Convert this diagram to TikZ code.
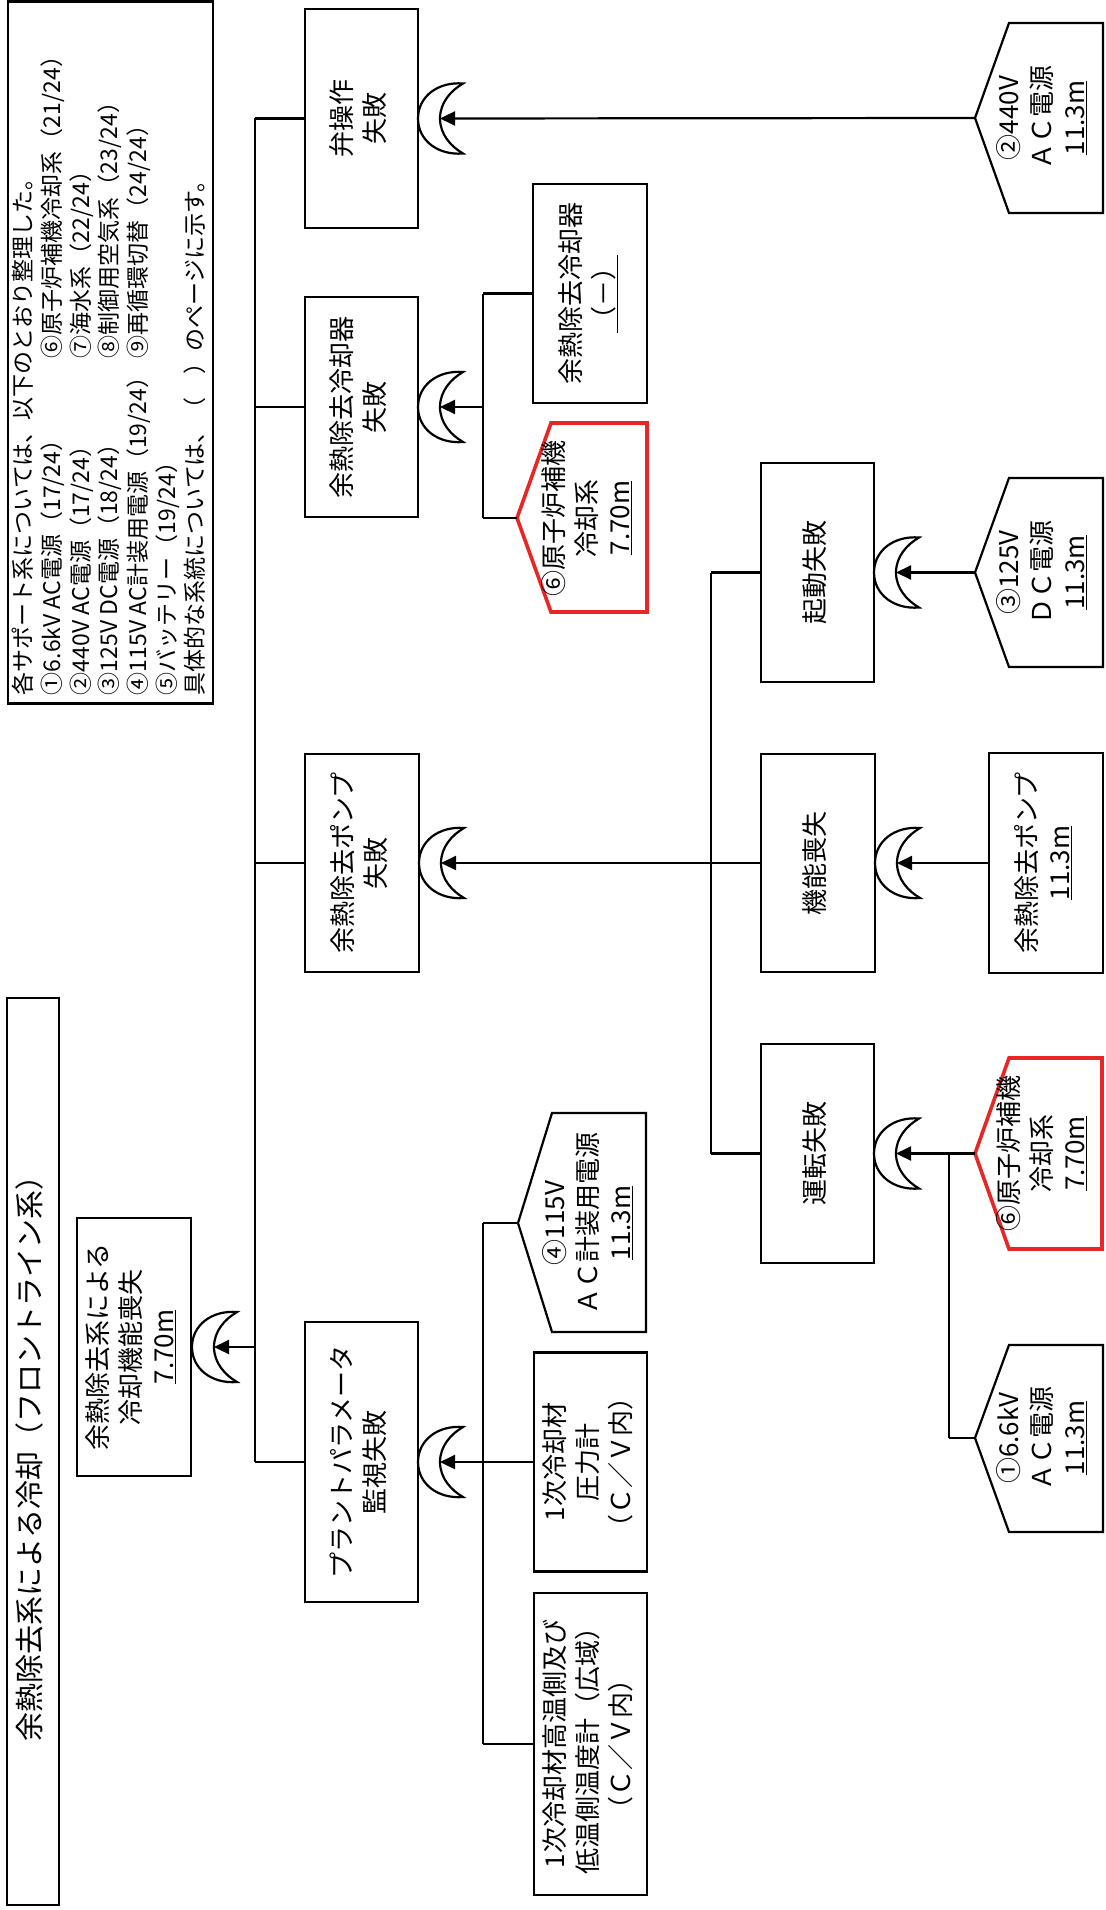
\documentclass[tikz,border=0pt]{standalone}
\usepackage{fontspec}
\setmainfont{Noto Sans CJK JP}
\usepackage{graphicx}
\usetikzlibrary{arrows.meta}
\definecolor{hred}{RGB}{232,38,38}
\newcommand\rt[1]{\rotatebox{90}{\begin{tabular}{@{}c@{}}#1\end{tabular}}}
\newcommand\orgate[3]{%
  \draw[gateline] (#2+45,#3-35) .. controls (#2+20,#3-37) and (#2,#3-22) .. (#2,#3)
     .. controls (#2,#3+22) and (#2+20,#3+37) .. (#2+45,#3+35)
     .. controls (#2+33,#3+28) and (#2+22,#3+16) .. (#2+22,#3)
     .. controls (#2+22,#3-16) and (#2+33,#3-28) .. (#2+45,#3-35) -- cycle;
  \coordinate (#1) at (#2+22,#3);}
\newcommand\house[7]{%
  \draw[#7] (#2,#3) -- (#2+34,#4) -- (#6,#4) -- (#6,#5) -- (#2+34,#5) -- cycle;
  \coordinate (#1) at (#2,#3);}
\tikzset{
  box/.style={draw, line width=2.2pt, inner sep=0pt, font=\fontsize{26}{33}\selectfont},
  txt/.style={inner sep=0pt, font=\fontsize{26}{33}\selectfont},
  conn/.style={line width=2.2pt},
  arr/.style={line width=2.2pt, -{Triangle[length=15pt,width=14pt]}},
  gateline/.style={line width=2.2pt, line join=miter},
  blackhouse/.style={draw, line width=2.2pt, line join=miter},
  redhouse/.style={draw=hred, line width=3.6pt, line join=miter},
}
\begin{document}
\begin{tikzpicture}[x=1pt,y=-1pt]
\useasboundingbox (0,0) rectangle (1105,1910);
\fill[white] (0,0) rectangle (1105,1910);

% title and legend
\node[box, line width=2.4pt, minimum width=52pt, minimum height=907pt, font=\fontsize{29}{34}\selectfont] (title) at (33,1451.5) {\rt{余熱除去系による冷却（フロントライン系）}};
\node[box, line width=2.4pt, minimum width=205pt, minimum height=702pt] (legend) at (110.5,352.5) {};
\node[txt, font=\fontsize{23}{28.7}\selectfont] (legendtext) at (112,358.5) {\rotatebox{90}{\begin{tabular}{@{}l@{}}
\makebox[673pt][l]{各サポート系については、以下のとおり整理した。}\\
\makebox[337pt][l]{①6.6kV AC電源（17/24）}⑥原子炉補機冷却系（21/24）\\
\makebox[337pt][l]{②440V AC電源（17/24）}⑦海水系（22/24）\\
\makebox[337pt][l]{③125V DC電源（18/24）}⑧制御用空気系（23/24）\\
\makebox[337pt][l]{④115V AC計装用電源（19/24）}⑨再循環切替（24/24）\\
\makebox[337pt][l]{⑤バッテリー（19/24）}\\
\makebox[673pt][l]{具体的な系統については、（　）のページに示す。}
\end{tabular}}};

% boxes
\node[box, minimum width=114pt, minimum height=258pt] (top) at (134,1347) {\rt{余熱除去系による\\冷却機能喪失\\\underline{7.70m}}};
\node[box, minimum width=113pt, minimum height=219pt] (valve) at (361.5,118.5) {\rt{弁操作\\失敗}};
\node[box, minimum width=113pt, minimum height=220pt] (cooler) at (361.5,407) {\rt{余熱除去冷却器\\失敗}};
\node[box, minimum width=114pt, minimum height=218pt] (pump) at (362,863) {\rt{余熱除去ポンプ\\失敗}};
\node[box, minimum width=113pt, minimum height=280pt] (plant) at (361.5,1462) {\rt{プラントパラメータ\\監視失敗}};
\node[box, minimum width=114pt, minimum height=219pt] (coolerm) at (590,293.5) {\rt{余熱除去冷却器\\\underline{（－）}}};
\node[box, minimum width=113pt, minimum height=219pt] (press) at (590.5,1462) {\rt{1次冷却材\\圧力計\\（Ｃ／Ｖ内）}};
\node[box, minimum width=113pt, minimum height=302pt] (temp) at (590.5,1744) {\rt{1次冷却材高温側及び\\低温側温度計（広域）\\（Ｃ／Ｖ内）}};
\node[box, minimum width=113pt, minimum height=219pt] (start) at (817.5,572.5) {\rt{起動失敗}};
\node[box, minimum width=114pt, minimum height=218pt] (func) at (818,863) {\rt{機能喪失}};
\node[box, minimum width=113pt, minimum height=219pt] (run) at (817.5,1153.5) {\rt{運転失敗}};
\node[box, minimum width=114pt, minimum height=220pt] (pumpb) at (1046,863) {\rt{余熱除去ポンプ\\\underline{11.3m}}};

% houses
\house{h2}{975}{118}{23}{213}{1103}{blackhouse}
\house{h3}{975}{572.5}{478}{667}{1103}{blackhouse}
\house{h6a}{517}{518}{423}{612}{647}{redhouse}
\house{h4}{518}{1223}{1113}{1332}{646}{blackhouse}
\house{h6b}{975}{1153.5}{1058}{1249}{1102}{redhouse}
\house{h1}{975}{1438}{1345}{1532}{1103}{blackhouse}
\node[txt] (h2t) at (1045,118) {\rt{②440V\\ＡＣ電源\\\underline{11.3m}}};
\node[txt] (h3t) at (1045,572.5) {\rt{③125V\\ＤＣ電源\\\underline{11.3m}}};
\node[txt] (h6at) at (590,518) {\rt{⑥原子炉補機\\冷却系\\\underline{7.70m}}};
\node[txt] (h4t) at (591,1223) {\rt{④115V\\ＡＣ計装用電源\\\underline{11.3m}}};
\node[txt] (h6bt) at (1045,1153.5) {\rt{⑥原子炉補機\\冷却系\\\underline{7.70m}}};
\node[txt] (h1t) at (1045,1438) {\rt{①6.6kV\\ＡＣ電源\\\underline{11.3m}}};

% gates
\orgate{g0}{192}{1347}
\orgate{g1}{418}{118.5}
\orgate{g2}{418}{407}
\orgate{g3}{419}{863}
\orgate{g4}{418}{1462}
\orgate{g5}{874}{572.5}
\orgate{g6}{875}{863}
\orgate{g7}{874}{1153.5}

% main bus
\coordinate (mbT) at (255,118.5);
\coordinate (mbB) at (255,1462);
\coordinate (mb2) at (255,407);
\coordinate (mb3) at (255,863);
\coordinate (mb0) at (255,1347);
\draw[conn] (mbT) -- (mbB);
\draw[conn] (mbT) -- (valve.west);
\draw[conn] (mb2) -- (cooler.west);
\draw[conn] (mb3) -- (pump.west);
\draw[conn] (mbB) -- (plant.west);
\draw[arr] (mb0) -- (g0);

% junction 1
\coordinate (j1T) at (483,293.5);
\coordinate (j1B) at (483,518);
\coordinate (j1m) at (483,407);
\draw[conn] (j1T) -- (j1B);
\draw[conn] (j1T) -- (coolerm.west);
\draw[conn] (j1B) -- (h6a);
\draw[arr] (j1m) -- (g2);

% junction 2
\coordinate (j2T) at (483,1223);
\coordinate (j2B) at (483,1744);
\draw[conn] (j2T) -- (j2B);
\draw[conn] (j2T) -- (h4);
\draw[conn] (j2B) -- (temp.west);
\draw[arr] (press.west) -- (g4);

% bus 2
\coordinate (b2T) at (711,572.5);
\coordinate (b2B) at (711,1153.5);
\draw[conn] (b2T) -- (b2B);
\draw[conn] (b2T) -- (start.west);
\draw[conn] (b2B) -- (run.west);
\draw[arr] (func.west) -- (g3);

% right side
\draw[arr] (h2) -- (g1);
\draw[arr] (h3) -- (g5);
\draw[arr] (pumpb.west) -- (g6);
\draw[arr] (h6b) -- (g7);
\coordinate (j3T) at (949,1153.5);
\coordinate (j3B) at (949,1438);
\draw[conn] (j3T) -- (j3B);
\draw[conn] (j3B) -- (h1);
\end{tikzpicture}
\end{document}
